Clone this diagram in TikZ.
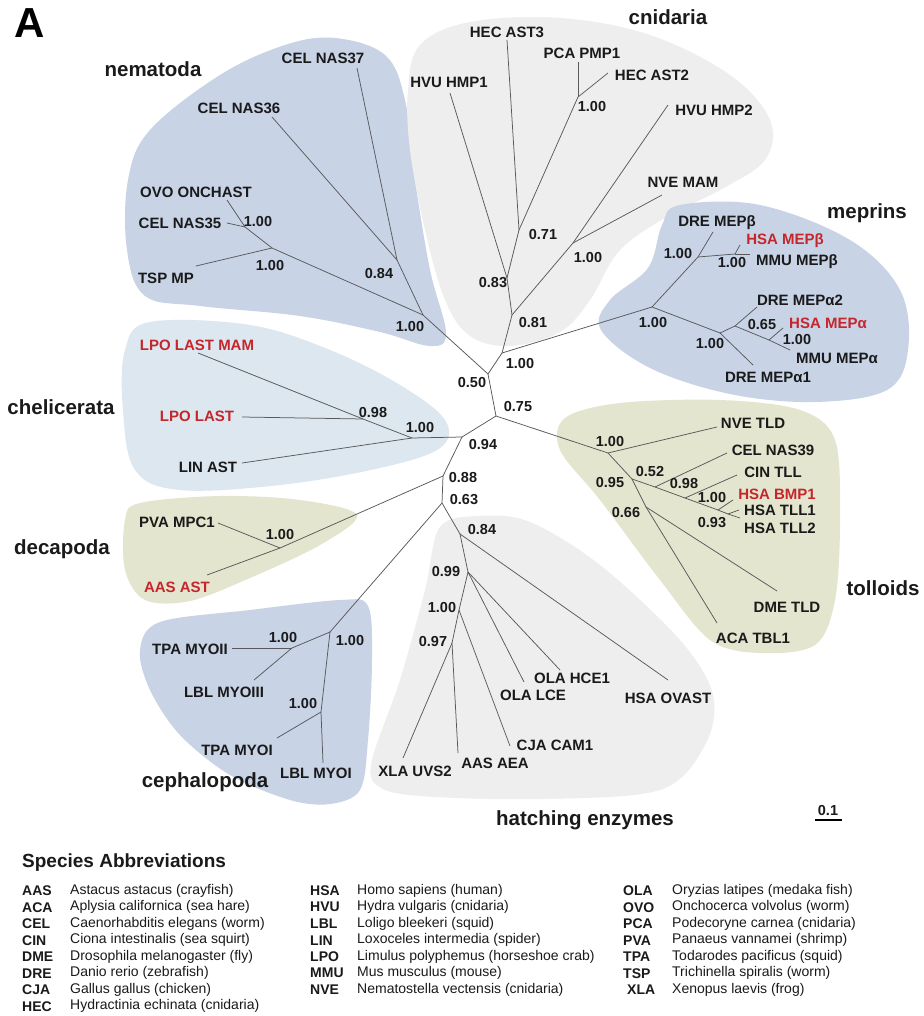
\documentclass[tikz,border=0pt]{standalone}
\usepackage{fontspec}
\setmainfont{Liberation Sans}
\definecolor{blueblob}{HTML}{C8D3E6}
\definecolor{grayblob}{HTML}{EEEEEE}
\definecolor{cheblob}{HTML}{DCE7EF}
\definecolor{oliveblob}{HTML}{E3E5CF}
\definecolor{hsred}{HTML}{C4262C}
\definecolor{txt}{HTML}{1A1A1A}
\tikzset{
  br/.style={draw=black!65, line width=0.75pt},
  lf/.style={font=\bfseries\fontsize{15}{15}\selectfont, text=txt, inner sep=0pt},
  rd/.style={lf, text=hsred},
  bs/.style={font=\bfseries\fontsize{14.5}{15}\selectfont, text=txt, inner sep=0pt},
  grp/.style={font=\bfseries\fontsize{20.5}{21}\selectfont, text=txt, inner sep=0pt},
  abbr/.style={font=\bfseries\fontsize{14}{14}\selectfont, anchor=west, inner sep=0pt, text=txt},
  desc/.style={font=\fontsize{14}{14}\selectfont, anchor=west, inner sep=0pt, text=txt}
}
\begin{document}
\begin{tikzpicture}[x=1pt,y=-1pt]
\useasboundingbox (0,0) rectangle (923,1016);
\fill[white] (0,0) rectangle (923,1016);

% ---------- blobs ----------
\fill[blueblob] plot[smooth cycle, tension=0.6] coordinates {(335,38) (385,55) (405,100) (415,180) (430,270) (446,333) (430,346) (380,332) (300,316) (200,306) (145,296) (127,250) (128,180) (150,130) (220,75) (285,45)};
\fill[grayblob] plot[smooth cycle, tension=0.6] coordinates {(420,45) (470,22) (560,18) (650,35) (730,75) (770,120) (765,160) (720,190) (670,215) (620,250) (590,300) (560,332) (510,346) (470,336) (445,300) (425,230) (410,150) (408,90)};
\fill[blueblob] plot[smooth cycle, tension=0.6] coordinates {(680,205) (760,205) (850,240) (900,290) (908,350) (887,390) (815,402) (730,394) (650,368) (601,330) (610,300) (648,268) (662,225)};
\fill[cheblob] plot[smooth cycle, tension=0.6] coordinates {(150,322) (250,325) (330,350) (400,385) (445,420) (440,448) (380,468) (280,485) (180,490) (135,470) (123,410) (125,350)};
\fill[oliveblob] plot[smooth cycle, tension=0.55] coordinates {(140,503) (220,496) (300,500) (357,515) (320,545) (250,578) (190,601) (145,600) (125,570) (125,520)};
\fill[blueblob] plot[smooth cycle, tension=0.55] coordinates {(160,622) (250,610) (340,600) (368,606) (372,660) (368,740) (360,790) (330,804) (290,800) (230,775) (180,735) (150,690) (140,650)};
\fill[grayblob] plot[smooth cycle, tension=0.55] coordinates {(440,527) (480,516) (530,522) (600,565) (680,640) (713,695) (705,745) (660,790) (540,799) (420,796) (378,786) (372,760) (400,680) (425,590)};
\fill[oliveblob] plot[smooth cycle, tension=0.55] coordinates {(565,418) (620,403) (720,400) (800,410) (835,440) (840,520) (835,600) (815,645) (760,653) (710,640) (660,580) (600,500) (560,450)};

% ---------- coordinates ----------
\coordinate (n050) at (488,374);
\coordinate (n100) at (502,353);
\coordinate (n075) at (496,416);
\coordinate (n094) at (462,437);
\coordinate (n088) at (443,476);
\coordinate (n063) at (442,503);
% nematoda
\coordinate (nm100) at (423,315);
\coordinate (nm084) at (397,260);
\coordinate (nmA) at (272,248);
\coordinate (nmB) at (245,227);
\coordinate (tNAS37) at (357,68);
\coordinate (tNAS36) at (272,117);
\coordinate (tTSP) at (196,266);
\coordinate (tOVO) at (227,200);
\coordinate (tNAS35) at (227,223);
% cnidaria
\coordinate (c081) at (512,315);
\coordinate (c083) at (507,278);
\coordinate (c071) at (519,230);
\coordinate (cP) at (578,97);
\coordinate (c100) at (573,243);
\coordinate (tHMP1) at (450,93);
\coordinate (tAST3) at (507,40);
\coordinate (tPMP1) at (578,62);
\coordinate (tAST2) at (608,73);
\coordinate (tHMP2) at (668,105);
\coordinate (tNVEMAM) at (662,195);
% meprins
\coordinate (m0) at (652,307);
\coordinate (mB) at (698,257);
\coordinate (mB2) at (735,254);
\coordinate (mA) at (720,333);
\coordinate (mA2) at (735,326);
\coordinate (mA3) at (769,340);
\coordinate (tDREb) at (713,232);
\coordinate (tHSAb) at (740,245);
\coordinate (tMMUb) at (750,254);
\coordinate (tDREa1) at (753,365);
\coordinate (tDREa2) at (757,307);
\coordinate (tHSAa) at (783,328);
\coordinate (tMMUa) at (790,350);
% tolloids
\coordinate (t100) at (608,453);
\coordinate (t095) at (632,479);
\coordinate (t052) at (655,487);
\coordinate (t098) at (685,498);
\coordinate (tX) at (718,510);
\coordinate (tY) at (728,514);
\coordinate (t066) at (646,507);
\coordinate (tNVETLD) at (717,427);
\coordinate (tNAS39) at (727,453);
\coordinate (tCIN) at (737,475);
\coordinate (tBMP1) at (733,500);
\coordinate (tTLL1) at (739,510);
\coordinate (tTLL2) at (740,518);
\coordinate (tDME) at (777,591);
\coordinate (tACA) at (717,623);
% chelicerata
\coordinate (ch100) at (412,438);
\coordinate (ch098) at (363,419);
\coordinate (tLASTMAM) at (198,353);
\coordinate (tLAST) at (242,417);
\coordinate (tLIN) at (242,463);
% decapoda
\coordinate (dc) at (280,548);
\coordinate (tPVA) at (218,523);
\coordinate (tAASAST) at (207,575);
% cephalopoda
\coordinate (cp1) at (330,632);
\coordinate (cp2) at (292,648);
\coordinate (cp3) at (321,712);
\coordinate (tTPAII) at (232,648);
\coordinate (tLBLIII) at (254,680);
\coordinate (tTPAI) at (277,738);
\coordinate (tLBLI) at (323,763);
% hatching
\coordinate (h084) at (460,534);
\coordinate (h099) at (468,572);
\coordinate (h100) at (459,610);
\coordinate (h097) at (452,643);
\coordinate (tOVAST) at (668,680);
\coordinate (tHCE1) at (560,670);
\coordinate (tLCE) at (524,682);
\coordinate (tCAM1) at (510,746);
\coordinate (tAEA) at (458,753);
\coordinate (tUVS2) at (403,758);

% ---------- branches ----------
\draw[br] (n050) -- (n100);
\draw[br] (n050) -- (n075);
\draw[br] (n050) -- (nm100);
\draw[br] (n075) -- (n094);
\draw[br] (n075) -- (t100);
\draw[br] (n094) -- (ch100);
\draw[br] (n094) -- (n088);
\draw[br] (n088) -- (dc);
\draw[br] (n088) -- (n063);
\draw[br] (n063) -- (cp1);
\draw[br] (n063) -- (h084);
\draw[br] (n100) -- (c081);
\draw[br] (n100) -- (m0);
% nematoda
\draw[br] (nm100) -- (nm084);
\draw[br] (nm084) -- (tNAS37);
\draw[br] (nm084) -- (tNAS36);
\draw[br] (nm100) -- (nmA);
\draw[br] (nmA) -- (tTSP);
\draw[br] (nmA) -- (nmB);
\draw[br] (nmB) -- (tOVO);
\draw[br] (nmB) -- (tNAS35);
% cnidaria
\draw[br] (c081) -- (c083);
\draw[br] (c081) -- (c100);
\draw[br] (c100) -- (tNVEMAM);
\draw[br] (c100) -- (tHMP2);
\draw[br] (c083) -- (tHMP1);
\draw[br] (c083) -- (c071);
\draw[br] (c071) -- (tAST3);
\draw[br] (c071) -- (cP);
\draw[br] (cP) -- (tPMP1);
\draw[br] (cP) -- (tAST2);
% meprins
\draw[br] (m0) -- (mB);
\draw[br] (mB) -- (tDREb);
\draw[br] (mB) -- (mB2);
\draw[br] (mB2) -- (tHSAb);
\draw[br] (mB2) -- (tMMUb);
\draw[br] (m0) -- (mA);
\draw[br] (mA) -- (tDREa1);
\draw[br] (mA) -- (mA2);
\draw[br] (mA2) -- (tDREa2);
\draw[br] (mA2) -- (mA3);
\draw[br] (mA3) -- (tHSAa);
\draw[br] (mA3) -- (tMMUa);
% tolloids
\draw[br] (t100) -- (tNVETLD);
\draw[br] (t100) -- (t095);
\draw[br] (t095) -- (t052);
\draw[br] (t052) -- (tNAS39);
\draw[br] (t052) -- (t098);
\draw[br] (t098) -- (tCIN);
\draw[br] (t098) -- (tX);
\draw[br] (tX) -- (tBMP1);
\draw[br] (tX) -- (tY);
\draw[br] (tY) -- (tTLL1);
\draw[br] (tY) -- (tTLL2);
\draw[br] (t095) -- (t066);
\draw[br] (t066) -- (tDME);
\draw[br] (t066) -- (tACA);
% chelicerata
\draw[br] (ch100) -- (ch098);
\draw[br] (ch098) -- (tLASTMAM);
\draw[br] (ch098) -- (tLAST);
\draw[br] (ch100) -- (tLIN);
% decapoda
\draw[br] (dc) -- (tPVA);
\draw[br] (dc) -- (tAASAST);
% cephalopoda
\draw[br] (cp1) -- (cp2);
\draw[br] (cp2) -- (tTPAII);
\draw[br] (cp2) -- (tLBLIII);
\draw[br] (cp1) -- (cp3);
\draw[br] (cp3) -- (tTPAI);
\draw[br] (cp3) -- (tLBLI);
% hatching
\draw[br] (h084) -- (tOVAST);
\draw[br] (h084) -- (h099);
\draw[br] (h099) -- (tHCE1);
\draw[br] (h099) -- (tLCE);
\draw[br] (h099) -- (h100);
\draw[br] (h100) -- (tCAM1);
\draw[br] (h100) -- (h097);
\draw[br] (h097) -- (tAEA);
\draw[br] (h097) -- (tUVS2);

% ---------- leaf labels ----------
\node[lf] (lNAS37) at (323,58) {CEL NAS37};
\node[lf] (lNAS36) at (239,108) {CEL NAS36};
\node[lf] (lOVO) at (196,192) {OVO ONCHAST};
\node[lf] (lNAS35) at (180,223) {CEL NAS35};
\node[lf] (lTSP) at (166,278) {TSP MP};
\node[lf] (lHMP1) at (449,82) {HVU HMP1};
\node[lf] (lAST3) at (507,32) {HEC AST3};
\node[lf] (lPMP1) at (582,53) {PCA PMP1};
\node[lf] (lAST2) at (652,75) {HEC AST2};
\node[lf] (lHMP2) at (714,110) {HVU HMP2};
\node[lf] (lNVEMAM) at (683,182) {NVE MAM};
\node[lf] (lDREb) at (717,223) {DRE MEPβ};
\node[rd] (lHSAb) at (785,241) {HSA MEPβ};
\node[lf] (lMMUb) at (797,262) {MMU MEPβ};
\node[lf] (lDREa2) at (800,300) {DRE MEPα2};
\node[rd] (lHSAa) at (828,323) {HSA MEPα};
\node[lf] (lMMUa) at (837,358) {MMU MEPα};
\node[lf] (lDREa1) at (768,377) {DRE MEPα1};
\node[lf] (lNVETLD) at (753,423) {NVE TLD};
\node[lf] (lNAS39) at (773,450) {CEL NAS39};
\node[lf] (lCIN) at (773,472) {CIN TLL};
\node[rd] (lBMP1) at (777,494) {HSA BMP1};
\node[lf] (lTLL1) at (780,510) {HSA TLL1};
\node[lf] (lTLL2) at (780,528) {HSA TLL2};
\node[lf] (lDME) at (787,607) {DME TLD};
\node[lf] (lACA) at (753,638) {ACA TBL1};
\node[rd] (lLASTMAM) at (197,345) {LPO LAST MAM};
\node[rd] (lLAST) at (197,416) {LPO LAST};
\node[lf] (lLIN) at (208,467) {LIN AST};
\node[lf] (lPVA) at (177,522) {PVA MPC1};
\node[rd] (lAASAST) at (177,587) {AAS AST};
\node[lf] (lTPAII) at (190,649) {TPA MYOII};
\node[lf] (lLBLIII) at (224,692) {LBL MYOIII};
\node[lf] (lTPAI) at (237,750) {TPA MYOI};
\node[lf] (lLBLI) at (316,773) {LBL MYOI};
\node[lf] (lOVAST) at (668,698) {HSA OVAST};
\node[lf] (lHCE1) at (572,678) {OLA HCE1};
\node[lf] (lLCE) at (533,695) {OLA LCE};
\node[lf] (lCAM1) at (555,745) {CJA CAM1};
\node[lf] (lAEA) at (495,763) {AAS AEA};
\node[lf] (lUVS2) at (415,771) {XLA UVS2};

% ---------- support values ----------
\node[bs] (b1) at (472,383) {0.50};
\node[bs] (b2) at (518,407) {0.75};
\node[bs] (b3) at (483,445) {0.94};
\node[bs] (b4) at (463,478) {0.88};
\node[bs] (b5) at (464,500) {0.63};
\node[bs] (b6) at (520,364) {1.00};
\node[bs] (b7) at (410,327) {1.00};
\node[bs] (b8) at (379,274) {0.84};
\node[bs] (b9) at (270,266) {1.00};
\node[bs] (b10) at (258,222) {1.00};
\node[bs] (b11) at (533,323) {0.81};
\node[bs] (b12) at (493,283) {0.83};
\node[bs] (b13) at (543,235) {0.71};
\node[bs] (b14) at (592,107) {1.00};
\node[bs] (b15) at (588,258) {1.00};
\node[bs] (b16) at (678,254) {1.00};
\node[bs] (b17) at (732,263) {1.00};
\node[bs] (b18) at (653,323) {1.00};
\node[bs] (b19) at (710,344) {1.00};
\node[bs] (b20) at (762,325) {0.65};
\node[bs] (b21) at (797,340) {1.00};
\node[bs] (b22) at (610,442) {1.00};
\node[bs] (b23) at (610,483) {0.95};
\node[bs] (b24) at (650,472) {0.52};
\node[bs] (b25) at (684,484) {0.98};
\node[bs] (b26) at (712,498) {1.00};
\node[bs] (b27) at (712,523) {0.93};
\node[bs] (b28) at (626,513) {0.66};
\node[bs] (b29) at (373,413) {0.98};
\node[bs] (b30) at (420,428) {1.00};
\node[bs] (b31) at (280,535) {1.00};
\node[bs] (b32) at (350,641) {1.00};
\node[bs] (b33) at (283,638) {1.00};
\node[bs] (b34) at (303,704) {1.00};
\node[bs] (b35) at (482,530) {0.84};
\node[bs] (b36) at (446,572) {0.99};
\node[bs] (b37) at (442,608) {1.00};
\node[bs] (b38) at (433,642) {0.97};

% ---------- group labels ----------
\node[grp] (gNem) at (153,69) {nematoda};
\node[grp] (gCni) at (668,17) {cnidaria};
\node[grp] (gMep) at (867,213) {meprins};
\node[grp] (gChe) at (61,407) {chelicerata};
\node[grp] (gDec) at (62,549) {decapoda};
\node[grp] (gTol) at (883,588) {tolloids};
\node[grp] (gCep) at (205,782) {cephalopoda};
\node[grp] (gHat) at (585,820) {hatching enzymes};

\node[font=\bfseries\fontsize{42}{42}\selectfont, inner sep=0pt] (panelA) at (30,23) {A};

% scale bar
\coordinate (sbL) at (815,820);
\coordinate (sbR) at (842,820);
\draw[line width=2.2pt, black] (sbL) -- (sbR);
\node[bs] (sbT) at (828,810) {0.1};

% ---------- legend ----------
\node[font=\bfseries\fontsize{19}{19}\selectfont, anchor=west, inner sep=0pt, text=txt] (legT) at (22,863) {Species Abbreviations};
\foreach \a/\d [count=\i from 0] in {AAS/Astacus astacus (crayfish), ACA/Aplysia californica (sea hare), CEL/Caenorhabditis elegans (worm), CIN/Ciona intestinalis (sea squirt), DME/Drosophila melanogaster (fly), DRE/Danio rerio (zebrafish), CJA/Gallus gallus (chicken), HEC/Hydractinia echinata (cnidaria)} {
  \node[abbr] (la\i) at (22,890.7+16.5*\i) {\a};
  \node[desc] (da\i) at (70,890.7+16.5*\i) {\d};
}
\foreach \a/\d [count=\i from 0] in {HSA/Homo sapiens (human), HVU/Hydra vulgaris (cnidaria), LBL/Loligo bleekeri (squid), LIN/Loxoceles intermedia (spider), LPO/Limulus polyphemus (horseshoe crab), MMU/Mus musculus (mouse), NVE/Nematostella vectensis (cnidaria)} {
  \node[abbr] (lb\i) at (310,890.7+16.5*\i) {\a};
  \node[desc] (db\i) at (357,890.7+16.5*\i) {\d};
}
\foreach \a/\d [count=\i from 0] in {OLA/Oryzias latipes (medaka fish), OVO/Onchocerca volvolus (worm), PCA/Podecoryne carnea (cnidaria), PVA/Panaeus vannamei (shrimp), TPA/Todarodes pacificus (squid), TSP/Trichinella spiralis (worm)} {
  \node[abbr] (lc\i) at (623,890.7+16.5*\i) {\a};
  \node[desc] (dc\i) at (672,890.7+16.5*\i) {\d};
}
\node[abbr] (lc6) at (627,989.7) {XLA};
\node[desc] (dc6) at (672,989.7) {Xenopus laevis (frog)};
\end{tikzpicture}
\end{document}
